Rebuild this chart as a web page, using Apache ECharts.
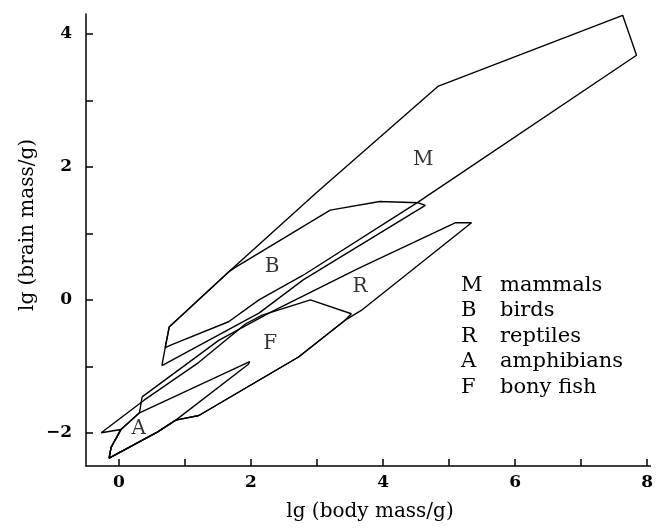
<!DOCTYPE html>
<html>
<head>
<meta charset="utf-8">
<script src="https://cdn.jsdelivr.net/npm/echarts@6/dist/echarts.min.js"></script>
<style>
  html, body { margin: 0; padding: 0; background: #fff; }
  #chart { width: 656px; height: 529px; }
</style>
</head>
<body>
<div id="chart"></div>
<script>
// Outlines of each class in lg(body mass/g), lg(brain mass/g)
var mammals = [[0.70,-0.72],[0.76,-0.41],[1.66,0.42],[2.99,1.61],[4.83,3.21],[7.63,4.28],[7.84,3.68],[4.53,1.47],[2.79,0.37],[2.12,0.0],[1.66,-0.33],[0.81,-0.67],[0.70,-0.72]];
var birds = [[0.65,-0.99],[0.70,-0.72],[0.76,-0.41],[1.66,0.42],[1.78,0.50],[3.20,1.35],[3.95,1.48],[4.53,1.46],[4.64,1.42],[2.79,0.30],[2.12,-0.20],[0.65,-0.99]];
var reptiles = [[0.35,-1.46],[1.51,-0.61],[2.27,-0.20],[3.62,0.47],[5.10,1.16],[5.34,1.16],[3.67,-0.16],[3.42,-0.31],[2.72,-0.86],[1.21,-1.74],[0.86,-1.81],[0.58,-1.99],[-0.15,-2.38],[-0.12,-2.22],[0.03,-1.95],[0.31,-1.70],[0.35,-1.46]];
var amphibians = [[0.03,-1.95],[0.31,-1.70],[1.98,-0.93],[1.96,-0.97],[0.86,-1.81],[0.58,-1.99],[-0.15,-2.38],[-0.12,-2.22],[0.03,-1.95]];
var bonyFish = [[-0.27,-2.0],[0.38,-1.51],[1.21,-0.94],[1.92,-0.36],[2.17,-0.23],[2.90,0.0],[3.52,-0.21],[3.42,-0.31],[2.72,-0.86],[1.21,-1.74],[0.86,-1.81],[0.58,-1.99],[-0.15,-2.38],[-0.12,-2.22],[0.03,-1.95],[-0.27,-2.0]];

// letter placed inside each outline
var letters = [
    { name: 'M', value: [4.61, 2.11] },
    { name: 'B', value: [2.32, 0.49] },
    { name: 'R', value: [3.65, 0.19] },
    { name: 'F', value: [2.29, -0.66] },
    { name: 'A', value: [0.30, -1.94] }
];

// key
var keyLetters = ['M', 'B', 'R', 'A', 'F'];
var keyNames = ['mammals', 'birds', 'reptiles', 'amphibians', 'bony fish'];

var xTicks = [0, 1, 2, 3, 4, 5, 6, 7, 8];
var xLabels = [0, 2, 4, 6, 8];
var yTicks = [-2, -1, 0, 1, 2, 3, 4];
var yLabels = [-2, 0, 2, 4];

var serif = '"DejaVu Serif", "Liberation Serif", serif';

var chartDom = document.getElementById('chart');
var chart = echarts.init(chartDom);

function outline(data) {
    return {
        type: 'line',
        data: data,
        symbol: 'none',
        silent: true,
        animation: false,
        lineStyle: { color: '#000', width: 1.4 }
    };
}

function minus(v) {
    return v < 0 ? '\u2212' + Math.abs(v) : String(v);
}

var keyGraphics = [];
keyLetters.forEach(function (l, i) {
    keyGraphics.push({
        type: 'text', left: 461, top: 275 + i * 25.5,
        style: { text: l, font: '21px ' + serif, fill: '#000' }
    });
    keyGraphics.push({
        type: 'text', left: 500, top: 275 + i * 25.5,
        style: { text: keyNames[i], font: '21px ' + serif, fill: '#000' }
    });
});

var option = {
    animation: false,
    grid: { left: 86, right: 2, top: 14, bottom: 63 },
    xAxis: {
        type: 'value',
        min: -0.5,
        max: 8.05,
        axisLine: { onZero: false, lineStyle: { color: '#000', width: 1.5 } },
        axisTick: { show: true, inside: true, length: 7, customValues: xTicks, lineStyle: { color: '#000', width: 1.5 } },
        axisLabel: {
            customValues: xLabels,
            formatter: minus,
            color: '#000',
            fontFamily: serif,
            fontSize: 17,
            fontWeight: 'bold',
            margin: 8
        },
        splitLine: { show: false }
    },
    yAxis: {
        type: 'value',
        min: -2.5,
        max: 4.3,
        axisLine: { show: true, onZero: false, lineStyle: { color: '#000', width: 1.5 } },
        axisTick: { show: true, inside: true, length: 7, customValues: yTicks, lineStyle: { color: '#000', width: 1.5 } },
        axisLabel: {
            customValues: yLabels,
            formatter: minus,
            color: '#000',
            fontFamily: serif,
            fontSize: 17,
            fontWeight: 'bold',
            margin: 14
        },
        splitLine: { show: false }
    },
    graphic: [
        {
            type: 'text', x: 370, y: 512,
            style: { text: 'lg (body mass/g)', font: '20px ' + serif, fill: '#000', align: 'center', verticalAlign: 'middle' }
        },
        {
            type: 'text', x: 28, y: 225, rotation: Math.PI / 2,
            style: { text: 'lg (brain mass/g)', font: '20px ' + serif, fill: '#000', align: 'center', verticalAlign: 'middle' }
        }
    ].concat(keyGraphics),
    series: [
        outline(mammals),
        outline(birds),
        outline(reptiles),
        outline(amphibians),
        outline(bonyFish),
        {
            type: 'scatter',
            data: letters,
            symbolSize: 0,
            silent: true,
            label: {
                show: true,
                position: 'inside',
                formatter: '{b}',
                color: '#000',
                fontFamily: serif,
                fontSize: 20
            }
        }
    ]
};

option && chart.setOption(option);
</script>
</body>
</html>
